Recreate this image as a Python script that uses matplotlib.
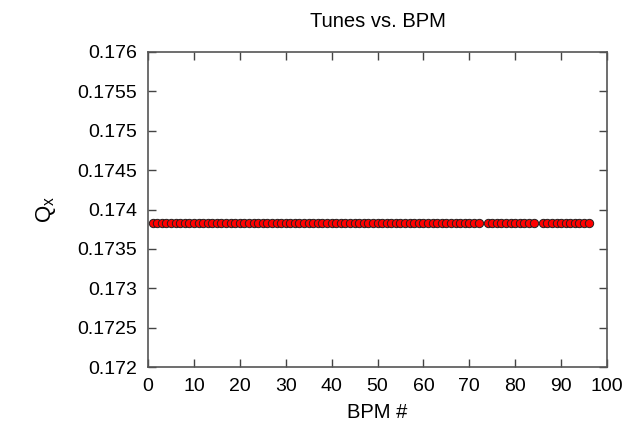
import numpy as np
import matplotlib
matplotlib.use("Agg")
import matplotlib.pyplot as plt

plt.rcParams['font.family'] = ['Liberation Sans', 'DejaVu Sans']
plt.rcParams['mathtext.fontset'] = 'custom'
plt.rcParams['mathtext.rm'] = 'Liberation Sans'
plt.rcParams['mathtext.it'] = 'Liberation Sans'

# BPM indices (73 and 85 missing)
bpm = [1, 2, 3, 4, 5, 6, 7, 8, 9, 10, 11, 12, 13, 14, 15, 16, 17, 18, 19, 20,
       21, 22, 23, 24, 25, 26, 27, 28, 29, 30, 31, 32, 33, 34, 35, 36, 37, 38,
       39, 40, 41, 42, 43, 44, 45, 46, 47, 48, 49, 50, 51, 52, 53, 54, 55, 56,
       57, 58, 59, 60, 61, 62, 63, 64, 65, 66, 67, 68, 69, 70, 71, 72,
       74, 75, 76, 77, 78, 79, 80, 81, 82, 83, 84,
       86, 87, 88, 89, 90, 91, 92, 93, 94, 95, 96]
# measured horizontal tune at each BPM
qx = [0.17383] * len(bpm)
qx_err = [0.0] * len(bpm)

fig = plt.figure(figsize=(6.31, 4.29), dpi=100)
ax = fig.add_axes([0.2346, 0.1445, 0.7274, 0.7343])

ax.errorbar(bpm, qx, xerr=0.6, yerr=qx_err, fmt='none', ecolor='cyan', elinewidth=1.2, zorder=2)
ax.plot(bpm, qx, 'o', ms=6.0, mfc='red', mec='#222222', mew=0.7, zorder=3)

ax.set_xlim(0, 100)
ax.set_ylim(0.172, 0.176)
ax.set_xticks(np.arange(0, 101, 10))
ax.set_yticks(np.arange(0.172, 0.17601, 0.0005))
ax.set_yticklabels(['0.172', '0.1725', '0.173', '0.1735', '0.174', '0.1745', '0.175', '0.1755', '0.176'])

ax.tick_params(direction='in', top=True, right=True, length=6, width=1.0, color='#444444',
               labelsize=14, pad=8)
for s in ax.spines.values():
    s.set_color('#555555')
    s.set_linewidth(1.2)

ax.set_title('Tunes vs. BPM', fontsize=14.5, pad=18)
ax.set_xlabel('BPM #', fontsize=14.5, labelpad=6)
ax.set_ylabel(r'$\mathrm{Q_x}$', fontsize=16, labelpad=14)

fig.savefig('out.png', dpi=100)
